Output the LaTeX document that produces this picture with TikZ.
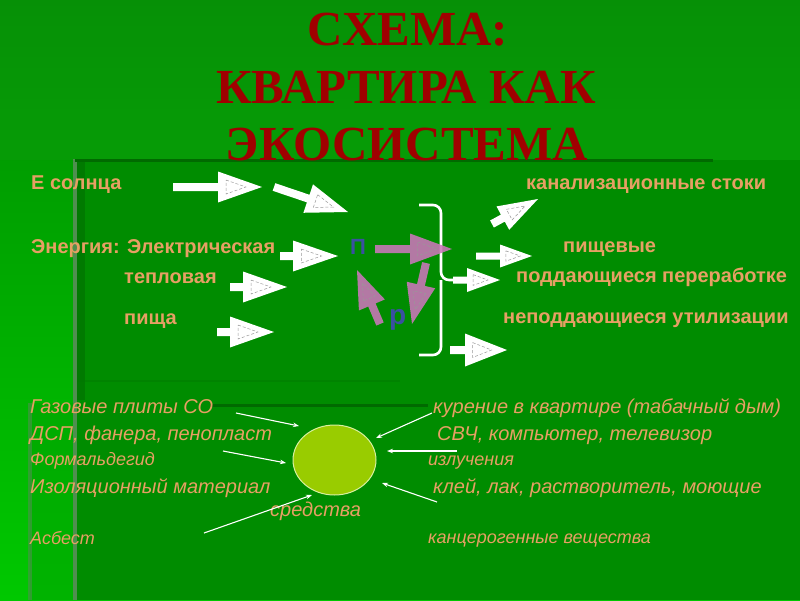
\documentclass[tikz,border=0pt]{standalone}
\usepackage{fontspec}
\setmainfont{Liberation Sans}
\newfontfamily\titlefont{Liberation Serif}
\usetikzlibrary{calc,arrows.meta,shapes.geometric}
\definecolor{bgtop}{HTML}{008E00}
\definecolor{bgmain}{HTML}{008C00}
\definecolor{bgbottom}{HTML}{00C800}
\definecolor{stripe}{HTML}{4F8F4F}
\definecolor{darkline}{HTML}{006A00}
\definecolor{txtc}{HTML}{E6A064}
\definecolor{titlec}{HTML}{A00000}
\definecolor{pinkc}{HTML}{CC77BB}
\definecolor{bluec}{HTML}{3A50A0}
\definecolor{ovalc}{HTML}{99CC00}
\definecolor{ovalb}{HTML}{D8F0A0}
\tikzset{
  btxt/.style={font=\fontsize{20}{24}\selectfont\bfseries, text=txtc, inner sep=0pt, anchor=base west},
  itxt/.style={font=\fontsize{20}{24}\selectfont\itshape, text=txtc, inner sep=0pt, anchor=base west},
  stxt/.style={font=\fontsize{18}{22}\selectfont\itshape, text=txtc, inner sep=0pt, anchor=base west},
  ttl/.style={font=\titlefont\fontsize{49}{55}\selectfont\bfseries, text=titlec, inner sep=0pt, anchor=base},
  lett/.style={font=\bfseries, text=bluec, inner sep=0pt, anchor=base west},
  innertri/.style={draw=gray!80, densely dashed, line width=0.5pt},
  thinarr/.style={draw=white, line width=1.1pt, -{Stealth[length=6pt,width=4.5pt]}},
  brace/.style={draw=white, line width=2.6pt, rounded corners=8pt}
}
\newcommand{\barrow}[7]{%
  \coordinate (#1T) at #2;
  \coordinate (#1P) at #3;
  \coordinate (#1B) at ($(#1P)!#4pt!(#1T)$);
  \coordinate (#1c) at ($(#1B)!#5pt!90:(#1P)$);
  \coordinate (#1d) at ($(#1B)!#5pt!-90:(#1P)$);
  \fill[#7] ($(#1T)!#6pt!90:(#1P)$) -- ($(#1B)!#6pt!90:(#1P)$) -- (#1c) -- (#1P) -- (#1d) -- ($(#1B)!#6pt!-90:(#1P)$) -- ($(#1T)!#6pt!-90:(#1P)$) -- cycle;
  \coordinate (#1G) at ($0.3333*(#1c)+0.3333*(#1d)+0.3334*(#1P)$);
  \draw[innertri] ($(#1G)!0.45!(#1c)$) -- ($(#1G)!0.45!(#1P)$) -- ($(#1G)!0.45!(#1d)$) -- cycle;
}
\begin{document}
\begin{tikzpicture}[x=1pt,y=-1pt]
\useasboundingbox (0,0) rectangle (800,600);
% background
\shade[top color=bgtop, bottom color=bgbottom] (0,0) rectangle (800,600);
\fill[bgtop!90!white, opacity=0.25] (0,0) rectangle (800,160);
\fill[bgmain] (75,160) rectangle (800,600);
\fill[black, opacity=0.12] (77,162) rectangle (85,400);
\fill[bgmain!80!green, opacity=0.55] (30,403) rectangle (75,600);
\draw[stripe, line width=4pt] (75,159) -- (75,600);
\draw[stripe, line width=4pt, opacity=0.6] (30,403) -- (30,600);
\draw[darkline, line width=3pt] (75,160) -- (713,160);
\draw[darkline, line width=3pt] (210,405) -- (428,405);
\draw[bgmain!85!black, line width=2pt, opacity=0.4] (77,381) -- (400,381);

% title
\node[ttl] (t1) at (408,45) {СХЕМА:};
\node[ttl] (t2) at (406,103) {КВАРТИРА КАК};
\node[ttl] (t3) at (407,160) {ЭКОСИСТЕМА};

% upper texts
\node[btxt] (esun) at (31,189) {Е солнца};
\node[btxt] (energy) at (31,253) {Энергия: Электрическая};
\node[btxt] (teplo) at (124,283) {тепловая};
\node[btxt] (food) at (124,324) {пища};
\node[btxt] (kanal) at (526,189) {канализационные стоки};
\node[btxt] (pisch) at (563,252) {пищевые};
\node[btxt] (podd) at (516,282) {поддающиеся переработке};
\node[btxt] (nepodd) at (503,323) {неподдающиеся утилизации};

% brace
\coordinate (brtop) at (419,205);
\coordinate (brbot) at (419,355);
\coordinate (brmid) at (441,280);
\coordinate (brtip) at (454,280);
\draw[brace] (brtop) -| (brmid) -- (brtip);
\draw[brace] (brbot) -| (brmid);

% white block arrows
\barrow{a1}{(173,187)}{(262,187)}{44}{15.5}{4}{white}
\barrow{a2}{(274,187)}{(348,212)}{42}{15}{4}{white}
\barrow{a3}{(280,256)}{(338,256)}{45}{15.5}{4}{white}
\barrow{a4}{(230,287)}{(287,287)}{44}{15.5}{4}{white}
\barrow{a5}{(217,332)}{(274,332)}{44}{15.5}{4}{white}
\barrow{a6}{(492,224)}{(538,199)}{40}{13.3}{4}{white}
\barrow{a7}{(476,256)}{(532,256)}{32}{11.5}{3.5}{white}
\barrow{a8}{(453,280)}{(500,280)}{33}{12}{3.5}{white}
\barrow{a9}{(450,350)}{(507,350)}{42}{16.5}{4}{white}

% pink cycle arrows
\barrow{p1}{(375,249)}{(452,249)}{42}{15.5}{4}{pinkc, opacity=0.88}
\barrow{p2}{(426,263)}{(412,324)}{40}{14.6}{4}{pinkc, opacity=0.88}
\barrow{p3}{(380,324)}{(357,270)}{38}{14.1}{4}{pinkc, opacity=0.88}
\node[lett, font=\fontsize{22}{24}\selectfont\bfseries] (letp) at (350,254) {П};
\node[lett, font=\fontsize{28}{30}\selectfont\bfseries] (letr) at (389,324) {р};

% lower texts
\node[itxt] (gas) at (30,413) {Газовые плиты СО};
\node[itxt] (dsp) at (30,440) {ДСП, фанера, пенопласт};
\node[stxt] (form) at (30,465) {Формальдегид};
\node[itxt] (izol) at (30,493) {Изоляционный материал};
\node[itxt] (sredst) at (270,516) {средства};
\node[stxt] (asb) at (30,544) {Асбест};
\node[itxt] (kur) at (433,413) {курение в квартире (табачный дым)};
\node[itxt] (svch) at (437,440) {СВЧ, компьютер, телевизор};
\node[stxt] (izl) at (428,465) {излучения};
\node[itxt] (klei) at (433,493) {клей, лак, растворитель, моющие};
\node[stxt] (kanc) at (428,543) {канцерогенные вещества};

% central oval
\node[ellipse, draw=ovalb, line width=1pt, fill=ovalc, minimum width=83pt, minimum height=70pt, inner sep=0pt] (oval) at (334.5,460) {};

% thin arrows
\coordinate (s1) at (236,413); \coordinate (e1) at (299,426);
\coordinate (s2) at (223,451); \coordinate (e2) at (286,463);
\coordinate (s3) at (204,533); \coordinate (e3) at (312,495);
\coordinate (s4) at (432,413); \coordinate (e4) at (376,438);
\coordinate (s5) at (457,451); \coordinate (e5) at (387,451);
\coordinate (s6) at (437,502); \coordinate (e6) at (382,483);
\draw[thinarr] (s1) -- (e1);
\draw[thinarr] (s2) -- (e2);
\draw[thinarr] (s3) -- (e3);
\draw[thinarr] (s4) -- (e4);
\draw[thinarr] (s5) -- (e5);
\draw[thinarr] (s6) -- (e6);
\end{tikzpicture}
\end{document}
